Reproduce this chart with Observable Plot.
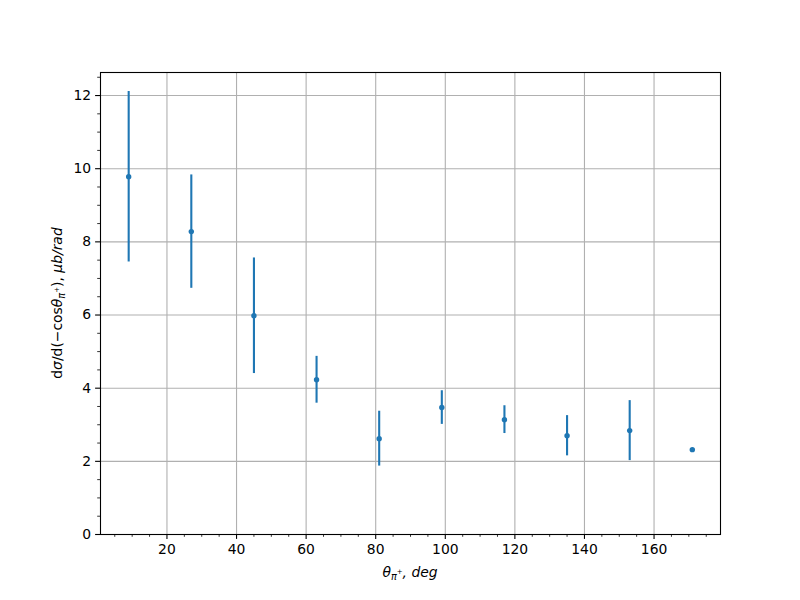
<!DOCTYPE html>
<html>
<head>
<meta charset="utf-8">
<script src="https://cdn.jsdelivr.net/npm/d3@7"></script>
<script src="https://cdn.jsdelivr.net/npm/@observablehq/plot@0.6"></script>
<style>
  html, body { margin: 0; padding: 0; background: #fff; }
  #chart { width: 800px; height: 600px; }
</style>
</head>
<body>
<div id="chart"></div>
<script>
const angles = [9, 27, 45, 63, 81, 99, 117, 135, 153, 171];
const crossSection = [9.78, 8.28, 5.98, 4.23, 2.62, 3.47, 3.14, 2.70, 2.84, 2.32];
const errors = [2.33, 1.55, 1.58, 0.64, 0.75, 0.46, 0.38, 0.55, 0.82, 0];
const xMajorTicks = [20, 40, 60, 80, 100, 120, 140, 160];
const xMinorTicks = [5, 10, 15, 25, 30, 35, 45, 50, 55, 65, 70, 75, 85, 90, 95, 105, 110, 115, 125, 130, 135, 145, 150, 155, 165, 170, 175];
const yMajorTicks = [0, 2, 4, 6, 8, 10, 12];
const yMinorTicks = [0.5, 1, 1.5, 2.5, 3, 3.5, 4.5, 5, 5.5, 6.5, 7, 7.5, 8.5, 9, 9.5, 10.5, 11, 11.5, 12.5];

const data = angles.map((a, i) => ({x: a, y: crossSection[i], lo: crossSection[i] - errors[i], hi: crossSection[i] + errors[i], e: errors[i]}));

const blue = "#1f77b4";
const chart = Plot.plot({
  width: 800,
  height: 600,
  marginLeft: 100,
  marginRight: 80,
  marginTop: 72,
  marginBottom: 66,
  style: {fontFamily: "DejaVu Sans", fontSize: "13.9px", color: "#000", background: "#fff"},
  x: {domain: [0.9, 179.1], label: null},
  y: {domain: [0, 12.63], label: null},
  marks: [
    Plot.gridX(xMajorTicks, {stroke: "#b0b0b0", strokeOpacity: 1, strokeWidth: 1.1}),
    Plot.gridY(yMajorTicks, {stroke: "#b0b0b0", strokeOpacity: 1, strokeWidth: 1.1}),
    Plot.axisX(xMajorTicks, {tickSize: 4.9, tickPadding: 4.5, strokeWidth: 1.1, fontSize: 13.9, fill: "#000", label: null}),
    Plot.axisX(xMinorTicks, {tickSize: 2.8, text: null, strokeWidth: 0.8, label: null}),
    Plot.axisY(yMajorTicks, {tickSize: 4.9, tickPadding: 4.5, strokeWidth: 1.1, fontSize: 13.9, fill: "#000", label: null}),
    Plot.axisY(yMinorTicks, {tickSize: 2.8, text: null, strokeWidth: 0.8, label: null}),
    Plot.ruleX(data.filter(d => d.e > 0), {x: "x", y1: "lo", y2: "hi", stroke: blue, strokeWidth: 2.1}),
    Plot.dot(data, {x: "x", y: "y", r: 2.7, fill: blue, stroke: "none"}),
    Plot.frame({stroke: "#000", strokeWidth: 1.1})
  ]
});
document.getElementById("chart").appendChild(chart);

const svg = d3.select(chart);
// x label: θ_{π+}, deg (mathtext italic)
const xl = svg.append("text")
  .attr("x", 410).attr("y", 577)
  .attr("text-anchor", "middle")
  .attr("font-family", "DejaVu Sans").attr("font-size", 13.9)
  .attr("fill", "#000");
xl.append("tspan").attr("font-style", "italic").text("θ");
xl.append("tspan").attr("font-style", "italic").attr("font-size", 9.7).attr("dy", 3).text("π");
xl.append("tspan").attr("font-size", 7).attr("dy", -6).text("+");
xl.append("tspan").attr("font-style", "italic").attr("dy", 3).text(", deg");

// y label
const yl = svg.append("text")
  .attr("transform", "translate(62,303) rotate(-90)")
  .attr("text-anchor", "middle")
  .attr("font-family", "DejaVu Sans").attr("font-size", 13.9)
  .attr("fill", "#000");
yl.append("tspan").text("d");
yl.append("tspan").attr("font-style", "italic").text("σ");
yl.append("tspan").text("/d(−cos");
yl.append("tspan").attr("font-style", "italic").text("θ");
yl.append("tspan").attr("font-style", "italic").attr("font-size", 9.7).attr("dy", 3).text("π");
yl.append("tspan").attr("font-size", 7).attr("dy", -6).text("+");
yl.append("tspan").attr("dy", 3).text("), ");
yl.append("tspan").attr("font-style", "italic").text("μb/rad");
</script>
</body>
</html>
